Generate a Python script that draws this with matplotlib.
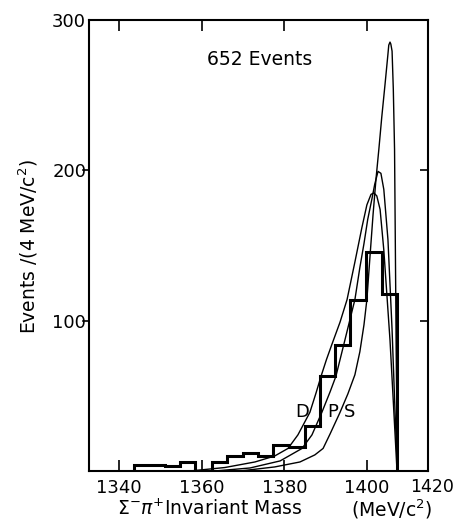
import numpy as np
import matplotlib
matplotlib.use('Agg')
import matplotlib.pyplot as plt

# Histogram: bin edges (MeV/c^2) and counts per bin
bin_edges = [1343.6, 1347.5, 1351.1, 1354.8, 1358.4, 1362.5, 1366.1, 1370.0, 1373.6,
             1377.3, 1381.1, 1385.0, 1388.6, 1392.3, 1395.9, 1399.8, 1403.6, 1407.3]
counts = [4, 4, 3, 6, 0, 6, 10, 12, 10, 17, 16, 30, 63, 84, 114, 146, 118]

# Fitted curves
d_mass = [1357.2, 1365.6, 1372.9, 1377.7, 1380.9, 1383.3, 1386.2, 1387.7, 1388.9, 1390.2,
          1391.5, 1393.5, 1395.2, 1397.1, 1398.8, 1400.0, 1401.0, 1401.7, 1402.4, 1403.2,
          1404.1, 1405.6, 1406.5, 1407.3]
d_vals = [0, 2.3, 6, 10, 15, 24, 39, 52, 63, 74,
          84, 99, 114, 139, 162, 177, 184, 185, 183, 174,
          147, 87, 41, 0]

p_mass = [1363.2, 1371.7, 1379.0, 1384.3, 1386.7, 1389.1, 1391.1, 1392.5, 1394.4, 1395.9,
          1397.1, 1398.3, 1399.3, 1400.2, 1401.2, 1401.9, 1402.7, 1403.4, 1404.1, 1405.1,
          1406.1, 1406.8, 1407.4]
p_vals = [0, 2, 6.7, 15, 24, 39, 52.7, 63, 84, 100.7,
          114, 135.3, 151.3, 167.3, 180.7, 190.7, 199.3, 198, 187.3, 154,
          94, 40.7, 0]

s_mass = [1369.3, 1377.7, 1383.8, 1387.4, 1389.4, 1391.1, 1393.5, 1395.4, 1397.1, 1398.3,
          1399.3, 1400.0, 1400.7, 1401.5, 1402.2, 1402.9, 1403.6, 1404.4, 1405.1, 1405.3,
          1405.6, 1405.8, 1406.1, 1406.4, 1406.7, 1406.9, 1407.1, 1407.4]
s_vals = [0, 2.7, 6, 10.7, 15, 24.7, 39, 51.3, 64, 79.3,
          97.3, 114, 140.7, 170.7, 194, 214, 235.3, 257.3, 277.3, 283.3,
          285.3, 284, 279.3, 254, 214, 147.3, 80.7, 0]

xticks = [1340, 1360, 1380, 1400]
yticks = [100, 200, 300]

fig = plt.figure(figsize=(4.56, 5.21), dpi=100)
ax = fig.add_axes([0.195, 0.096, 0.7436, 0.8656])

# histogram
ax.stairs(counts, bin_edges, color='black', linewidth=2.2)

# curves
for m, v in [(d_mass, d_vals), (p_mass, p_vals), (s_mass, s_vals)]:
    ax.plot(m, v, color='black', linewidth=1.0)

ax.set_xlim(1332.7, 1414.8)
ax.set_ylim(0, 300)

ax.set_xticks(xticks)
ax.set_xticklabels([str(t) for t in xticks])
ax.set_yticks(yticks)
ax.set_yticklabels([str(t) for t in yticks])

ax.tick_params(axis='x', direction='in', length=8, width=1.2, top=True,
               labelsize=13, pad=6)
ax.tick_params(axis='y', which='both', left=False, right=True, direction='in',
               length=6, width=1.2, labelsize=13, pad=2)
ax.tick_params(axis='y', labelleft=True)
for sp in ax.spines.values():
    sp.set_linewidth(1.5)

# left side ticks pointing outward
for y in yticks[:-1]:
    ax.plot([-0.018, 0], [y / 300] * 2, transform=ax.transAxes,
            color='black', linewidth=1.2, clip_on=False)

ax.text(1.011, -0.016, '1420', transform=ax.transAxes, ha='center', va='top',
        fontsize=12.5)

ax.text(1374.1, 274, '652 Events', ha='center', va='center', fontsize=13.5)
ax.text(1384.3, 39, 'D', ha='center', va='center', fontsize=13)
ax.text(1391.8, 39, 'P', ha='center', va='center', fontsize=13)
ax.text(1395.9, 39, 'S', ha='center', va='center', fontsize=13)

fig.text(28 / 456, 1 - 247 / 521, r'Events /(4 MeV/c$^2$)', rotation=90,
         ha='center', va='center', fontsize=13.5)
fig.text(210 / 456, 1 - 509 / 521, r'$\Sigma^{-}\pi^{+}$Invariant Mass',
         ha='center', va='center', fontsize=13.5)
fig.text(392 / 456, 1 - 509 / 521, r'(MeV/c$^2$)', ha='center', va='center',
         fontsize=13.5)

fig.savefig('out.png', dpi=100)
